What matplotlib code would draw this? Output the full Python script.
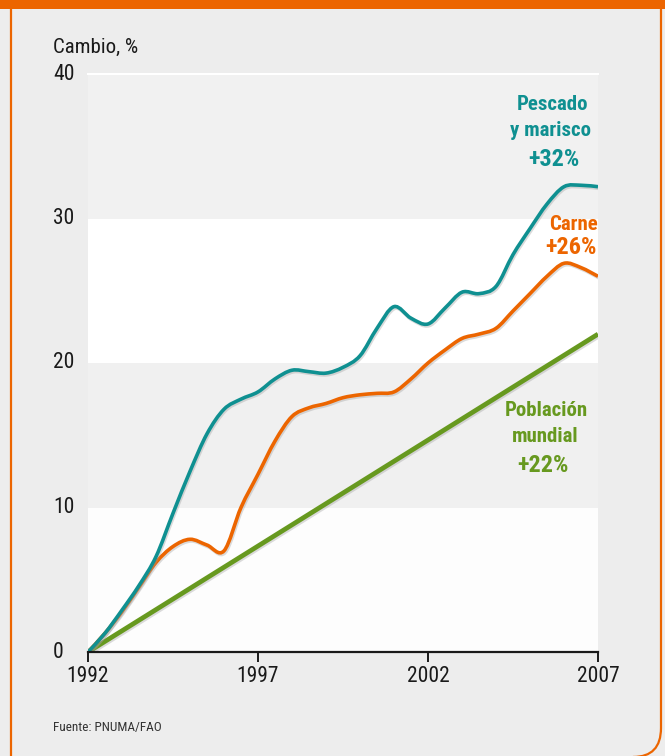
import numpy as np
import matplotlib.pyplot as plt
from matplotlib import font_manager
from matplotlib.path import Path
from matplotlib.patches import PathPatch, Rectangle
import matplotlib.patheffects as pe

# Datos (cambio % desde 1992)
years = [1992.0, 1992.5, 1993.0, 1993.5, 1994.0, 1994.5, 1995.0, 1995.5,
         1996.0, 1996.5, 1997.0, 1997.5, 1998.0, 1998.5, 1999.0, 1999.5,
         2000.0, 2000.5, 2001.0, 2001.5, 2002.0, 2002.5, 2003.0, 2003.5,
         2004.0, 2004.5, 2005.0, 2005.5, 2006.0, 2006.5, 2007.0]
pescado = [0.0, 1.3, 2.9, 4.6, 6.6, 9.6, 12.5, 15.1,
           16.8, 17.5, 18.0, 18.9, 19.5, 19.4, 19.3, 19.7,
           20.5, 22.4, 23.9, 23.1, 22.7, 23.8, 24.9, 24.8,
           25.3, 27.5, 29.3, 31.0, 32.2, 32.3, 32.2]
carne = [0.0, 1.3, 2.8, 4.5, 6.2, 7.3, 7.8, 7.4,
         7.0, 10.0, 12.3, 14.6, 16.3, 16.9, 17.2, 17.6,
         17.8, 17.9, 18.0, 18.9, 20.0, 20.9, 21.7, 22.0,
         22.4, 23.6, 24.8, 26.0, 26.9, 26.6, 26.0]
pob_years = [1992, 2007]
poblacion = [0.0, 22.0]

bands = [(0, 10, '#fdfdfd'), (10, 20, '#f0f0f0'), (20, 30, '#ffffff'), (30, 40, '#f1f1f1')]
xticks = [1992, 1997, 2002, 2007]
yticks = [0, 10, 20, 30, 40]

TEAL = '#0f9091'
ORANGE = '#ec6500'
GREEN = '#67991f'

# fuente estrecha si existe
installed = {f.name for f in font_manager.fontManager.ttflist}
narrow = [n for n in ['Liberation Sans Narrow', 'DejaVu Sans Condensed',
                      'Roboto Condensed', 'Open Sans Condensed'] if n in installed]
if narrow:
    FONT = [narrow[0], 'DejaVu Sans']
    SCALE = 1.0
else:
    FONT = ['Roboto', 'DejaVu Sans']
    SCALE = 0.93
plt.rcParams['font.family'] = FONT

W, H = 665, 756


def fx(px):
    return px / W


def fy(py):
    return 1 - py / H


def smooth_path(xs, ys):
    # curva Catmull-Rom convertida en Bezier cúbicas
    p = np.column_stack([xs, ys]).astype(float)
    ext = np.vstack([p[0], p, p[-1]])
    verts = [tuple(p[0])]
    codes = [Path.MOVETO]
    for i in range(len(p) - 1):
        p0, p1, p2, p3 = ext[i], ext[i + 1], ext[i + 2], ext[i + 3]
        c1 = p1 + (p2 - p0) / 6
        c2 = p2 - (p3 - p1) / 6
        verts += [tuple(c1), tuple(c2), tuple(p2)]
        codes += [Path.CURVE4] * 3
    return Path(verts, codes)


fig = plt.figure(figsize=(W / 100, H / 100), dpi=100, facecolor='#ededed')
ax = fig.add_axes([fx(88), fy(652), fx(598) - fx(88), fy(74) - fy(652)])
ax.set_xlim(1992, 2007)
ax.set_ylim(0, 40)
ax.set_facecolor('none')

for lo, hi, c in bands:
    ax.axhspan(lo, hi, color=c, lw=0, zorder=0)
ax.axhline(40, color='white', lw=1.5, zorder=1, clip_on=False)

shadow = [pe.SimpleLineShadow(offset=(0.8, -1.2), shadow_color='#999999', alpha=0.35),
          pe.Normal()]

ax.plot(pob_years, poblacion, color=GREEN, lw=3.4, solid_capstyle='butt',
        zorder=3, path_effects=shadow)
for ys, col in [(carne, ORANGE), (pescado, TEAL)]:
    patch = PathPatch(smooth_path(years, ys), facecolor='none', edgecolor=col,
                      lw=2.6, capstyle='butt', zorder=4, path_effects=shadow)
    ax.add_patch(patch)

for s in ['left', 'right', 'top']:
    ax.spines[s].set_visible(False)
ax.spines['bottom'].set_linewidth(1.6)
ax.spines['bottom'].set_color('#1a1a1a')
ax.spines['bottom'].set_zorder(5)

ax.set_xticks(xticks)
ax.set_xticklabels([str(t) for t in xticks])
ax.tick_params(axis='x', direction='out', length=7, width=1.4, color='#1a1a1a',
               labelsize=15.5 * SCALE, pad=3, labelcolor='#1a1a1a')
ax.set_yticks(yticks)
ax.set_yticklabels([])
ax.tick_params(axis='y', length=0)
for t in yticks:
    ax.text(fx(53), ax.transData.transform((0, t))[1] / H, str(t),
            transform=fig.transFigure, ha='left', va='center',
            fontsize=15.5 * SCALE, color='#1a1a1a')

fig.text(fx(53), fy(47), 'Cambio, %', ha='left', va='center', fontsize=15 * SCALE, color='#1a1a1a')
fig.text(fx(53), fy(727), 'Fuente: PNUMA/FAO', ha='left', va='center', fontsize=9.5 * SCALE, color='#333333')

# etiquetas de series
lab = dict(ha='center', va='center', fontweight='bold')
fig.text(fx(552), fy(104), 'Pescado', fontsize=15 * SCALE, color=TEAL, **lab)
fig.text(fx(550), fy(131), 'y marisco', fontsize=15 * SCALE, color=TEAL, **lab)
fig.text(fx(554), fy(160), '+32%', fontsize=17.5 * SCALE, color=TEAL, **lab)
fig.text(fx(573), fy(225), 'Carne', fontsize=15 * SCALE, color=ORANGE, **lab)
fig.text(fx(571), fy(248), '+26%', fontsize=17.5 * SCALE, color=ORANGE, **lab)
fig.text(fx(546), fy(411), 'Población', fontsize=15 * SCALE, color=GREEN, **lab)
fig.text(fx(545), fy(437), 'mundial', fontsize=15 * SCALE, color=GREEN, **lab)
fig.text(fx(543), fy(465), '+22%', fontsize=17.5 * SCALE, color=GREEN, **lab)

# marco naranja
fig.patches.append(Rectangle((0, fy(8.5)), 1, 1 - fy(8.5), transform=fig.transFigure,
                             facecolor=ORANGE, edgecolor='none', zorder=10))
fig.lines.append(plt.Line2D([fx(11), fx(11)], [0, 1], transform=fig.transFigure,
                            color=ORANGE, lw=1.6, zorder=10))
frame = Path([(fx(661), 1), (fx(661), fy(728)), (fx(661), fy(757)), (fx(633), fy(757))],
             [Path.MOVETO, Path.LINETO, Path.CURVE3, Path.CURVE3])
fig.patches.append(PathPatch(frame, transform=fig.transFigure, facecolor='none',
                             edgecolor=ORANGE, lw=1.6, zorder=10))

fig.savefig('out.png', dpi=100, facecolor=fig.get_facecolor())
